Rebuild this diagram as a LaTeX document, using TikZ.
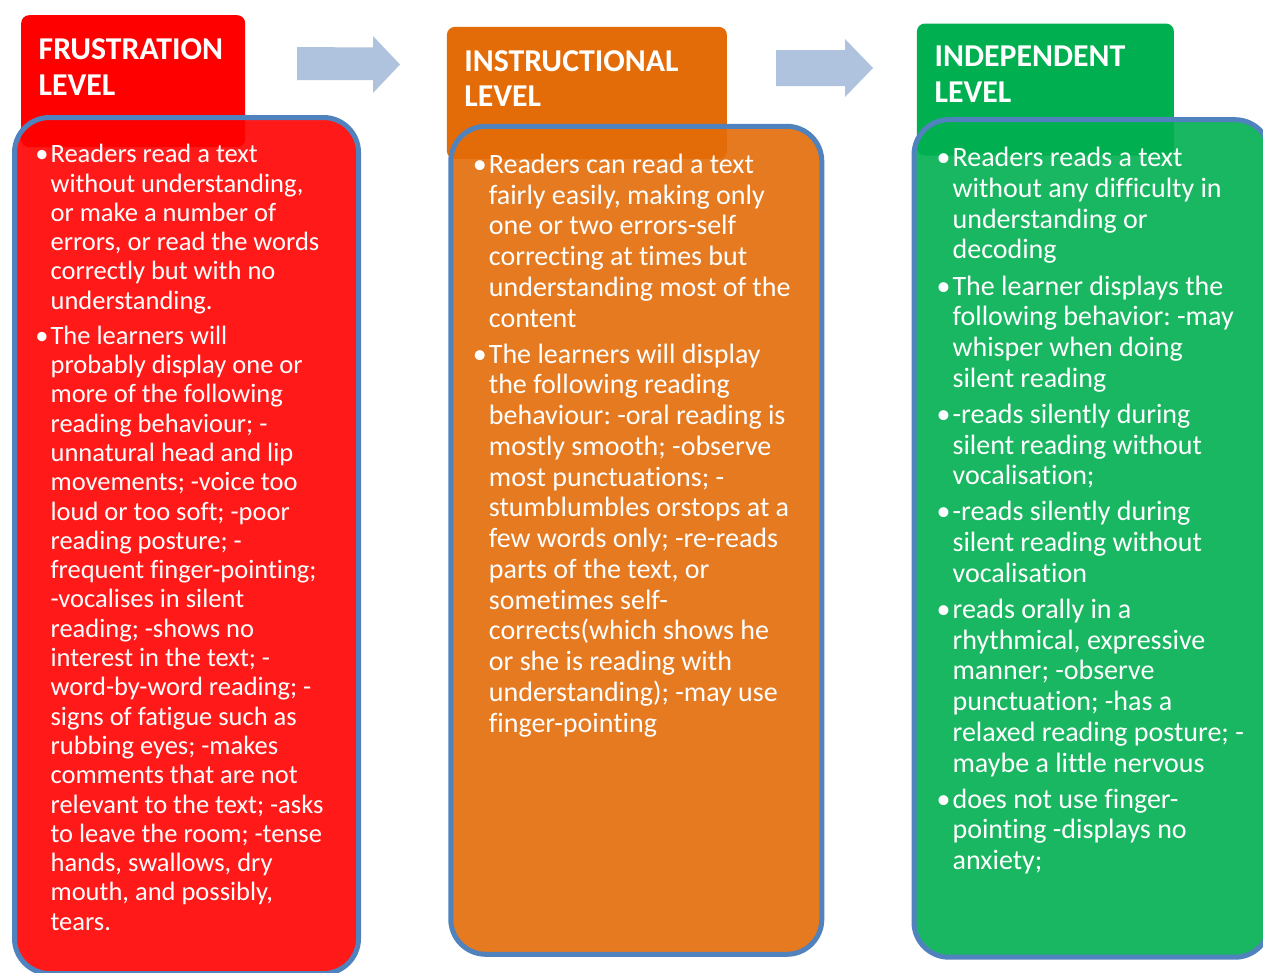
\documentclass[tikz,border=0pt]{standalone}
\usepackage{fontspec}
\setmainfont{Carlito}[Ligatures=NoCommon]
\definecolor{fr}{HTML}{FF0000}
\definecolor{ins}{HTML}{E36C09}
\definecolor{ind}{HTML}{00B050}
\definecolor{bord}{HTML}{5082BE}
\definecolor{arr}{HTML}{B0C3DE}
\newcommand\bul{\llap{•\kern2pt}}
\newcommand\toplines[1]{\begin{tabular}[t]{@{}l@{}}#1\end{tabular}}
\frenchspacing
\begin{document}
\begin{tikzpicture}[x=1pt,y=-1pt,
  header/.style={fill=#1, rounded corners=8pt, inner sep=0, anchor=north west},
  bodybox/.style={fill=#1, fill opacity=0.9, draw=bord, draw opacity=1, line width=5pt, rounded corners=35pt, inner sep=0, anchor=north west},
  htext/.style={anchor=base west, inner sep=0, text=white, font={\fontsize{31.8pt}{35.7pt}\selectfont\bfseries}},
  btext/.style={anchor=base west, inner sep=0, text=white},
  smalltext/.style={font={\fontsize{26.5pt}{29.3pt}\selectfont}},
  bigtext/.style={font={\fontsize{28pt}{30.75pt}\selectfont}},
  blockarrow/.style={fill=arr}]
\clip (0,0) rectangle (1263,972);
\fill[white] (0,0) rectangle (1263,972);

% headers
\node[header=fr, minimum width=224pt, minimum height=132pt] (h1) at (21,15) {};
\node[header=ins, minimum width=280pt, minimum height=132pt] (h2) at (446.7,26.7) {};
\node[header=ind, minimum width=257pt, minimum height=132pt] (h3) at (916.7,23.3) {};

% bodies
\node[bodybox=fr, minimum width=344pt, minimum height=856pt] (b1) at (12,115) {};
\node[bodybox=ins, minimum width=371pt, minimum height=828pt] (b2) at (448.3,123.8) {};
\node[bodybox=ind, minimum width=356pt, minimum height=837.5pt] (b3) at (911.5,117.2) {};

% header texts
\node[htext] (ht1) at (38.5,59.3) {\toplines{FRUSTRATION\\LEVEL}};
\node[htext] (ht2) at (464.2,71) {\toplines{INSTRUCTIONAL\\LEVEL}};
\node[htext] (ht3) at (934.5,66.7) {\toplines{INDEPENDENT\\LEVEL}};

% arrows
\fill[blockarrow] (297,47) -- (373,47.5) -- (373,36) -- (400,64.5) -- (373,93) -- (373,80) -- (297,80) -- cycle;
\fill[blockarrow] (776,50) -- (845,50) -- (845,39) -- (873,68) -- (845,97) -- (845,86) -- (776,86) -- cycle;

% body texts
\node[btext, smalltext] (t1) at (50.4,162.7) {\toplines{%
\bul Readers read a text\\
without understanding,\\
or make a number of\\
errors, or read the words\\
correctly but with no\\
understanding.\\[5.7pt]
\bul The learners will\\
probably display one or\\
more of the following\\
reading behaviour; -\\
unnatural head and lip\\
movements; -voice too\\
loud or too soft; -poor\\
reading posture; -\\
frequent finger-pointing;\\
-vocalises in silent\\
reading; -shows no\\
interest in the text; -\\
word-by-word reading; -\\
signs of fatigue such as\\
rubbing eyes; -makes\\
comments that are not\\
relevant to the text; -asks\\
to leave the room; -tense\\
hands, swallows, dry\\
mouth, and possibly,\\
tears.}};

\node[btext, bigtext] (t2) at (488.7,173.3) {\toplines{%
\bul Readers can read a text\\
fairly easily, making only\\
one or two errors-self\\
correcting at times but\\
understanding most of the\\
content\\[5.3pt]
\bul The learners will display\\
the following reading\\
behaviour: -oral reading is\\
mostly smooth; -observe\\
most punctuations; -\\
stumblumbles orstops at a\\
few words only; -re-reads\\
parts of the text, or\\
sometimes self-\\
corrects(which shows he\\
or she is reading with\\
understanding); -may use\\
finger-pointing}};

\node[btext, bigtext] (t3) at (952.4,166.7) {\toplines{%
\bul Readers reads a text\\
without any difficulty in\\
understanding or\\
decoding\\[5.3pt]
\bul The learner displays the\\
following behavior: -may\\
whisper when doing\\
silent reading\\[5.3pt]
\bul -reads silently during\\
silent reading without\\
vocalisation;\\[5.3pt]
\bul -reads silently during\\
silent reading without\\
vocalisation\\[5.3pt]
\bul reads orally in a\\
rhythmical, expressive\\
manner; -observe\\
punctuation; -has a\\
relaxed reading posture; -\\
maybe a little nervous\\[5.3pt]
\bul does not use finger-\\
pointing -displays no\\
anxiety;}};
\end{tikzpicture}
\end{document}
